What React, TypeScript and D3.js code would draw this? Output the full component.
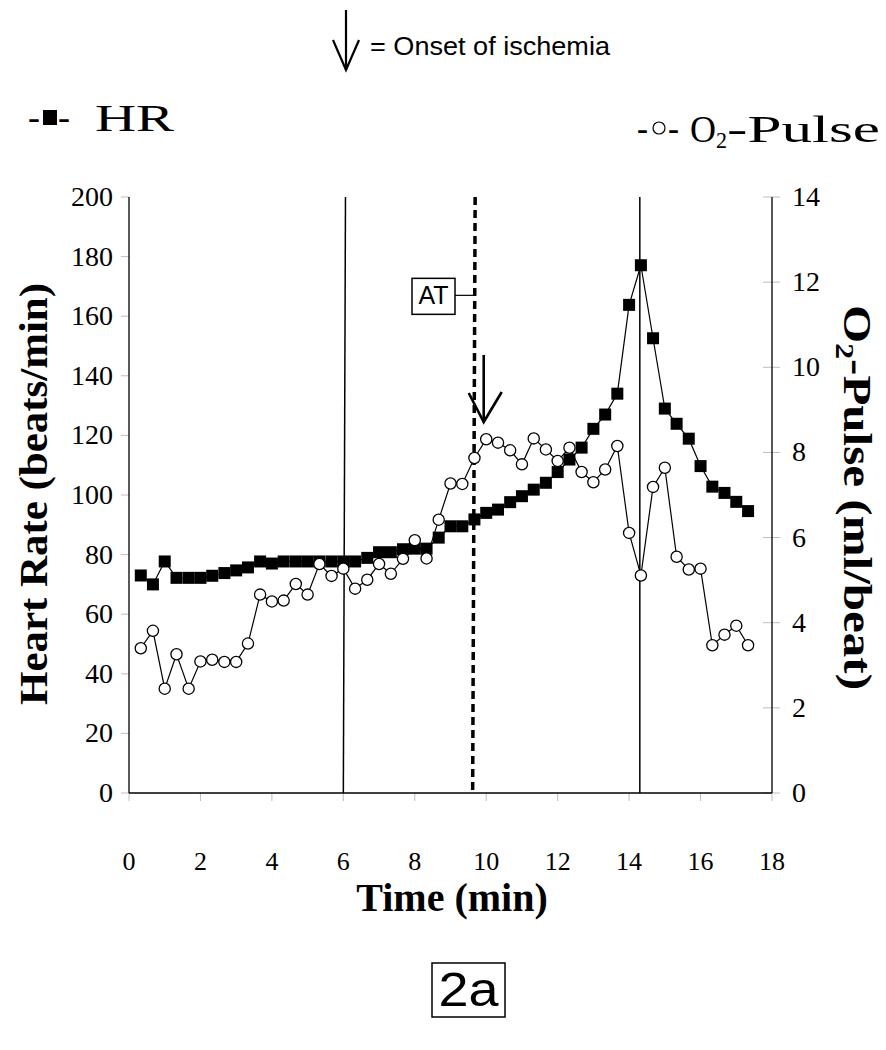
import React from "react";
import * as d3 from "d3";

const times = [0.33, 0.67, 1.0, 1.33, 1.67, 2.0, 2.33, 2.67, 3.0, 3.33, 3.67, 4.0, 4.33, 4.67, 5.0, 5.33, 5.67, 6.0, 6.33, 6.67, 7.0, 7.33, 7.67, 8.0, 8.33, 8.67, 9.0, 9.33, 9.67, 10.0, 10.33, 10.67, 11.0, 11.33, 11.67, 12.0, 12.33, 12.67, 13.0, 13.33, 13.67, 14.0, 14.33, 14.67, 15.0, 15.33, 15.67, 16.0, 16.33, 16.67, 17.0, 17.33];

const hrValues = [73, 70, 77.7, 72.2, 72.2, 72.2, 72.9, 73.8, 74.7, 75.7, 77.7, 77, 77.7, 77.7, 77.7, 77.7, 77.7, 77.7, 77.7, 78.9, 80.8, 80.8, 81.8, 82, 82, 85.7, 89.5, 89.5, 91.8, 94, 95.1, 97.6, 99.6, 101.8, 104.1, 107.7, 111.9, 115.9, 122.2, 127, 134, 163.8, 177.1, 152.6, 129, 123.9, 118.9, 109.7, 102.8, 100.7, 97.7, 94.6];

const o2Values = [3.4, 3.81, 2.45, 3.26, 2.45, 3.09, 3.13, 3.08, 3.08, 3.51, 4.66, 4.5, 4.52, 4.91, 4.66, 5.38, 5.1, 5.27, 4.8, 5.01, 5.38, 5.15, 5.5, 5.94, 5.51, 6.42, 7.27, 7.26, 7.87, 8.31, 8.23, 8.05, 7.72, 8.33, 8.07, 7.8, 8.11, 7.54, 7.3, 7.6, 8.15, 6.11, 5.11, 7.19, 7.64, 5.55, 5.25, 5.27, 3.47, 3.72, 3.93, 3.47];

const xTicks = [0, 2, 4, 6, 8, 10, 12, 14, 16, 18];
const hrTicks = [0, 20, 40, 60, 80, 100, 120, 140, 160, 180, 200];
const o2Ticks = [0, 2, 4, 6, 8, 10, 12, 14];

// reference lines: [time at top, time at bottom]
const solidLines = [[6.06, 6.0], [14.3, 14.3]];
const atLine = [9.69, 9.62];
// ischemia arrow: time, HR top, HR tip
const arrowTime = 9.93;
const arrowTopHR = 147;
const arrowTipHR = 124.5;

const serif = "'Liberation Serif', 'Times New Roman', serif";
const sans = "'Liberation Sans', Arial, sans-serif";

export default function App() {
  const L = 129, R = 772, T = 197, B = 793;
  const x = d3.scaleLinear().domain([0, 18]).range([L, R]);
  const yL = d3.scaleLinear().domain([0, 200]).range([B, T]);
  const yR = d3.scaleLinear().domain([0, 14]).range([B, T]);

  const hrLine = d3.line<number>().x((_, i) => x(times[i])).y((d) => yL(d));
  const o2Line = d3.line<number>().x((_, i) => x(times[i])).y((d) => yR(d));

  const ax = x(arrowTime);
  const aTop = yL(arrowTopHR);
  const aTip = yL(arrowTipHR);
  const atY = yL(167);

  return (
    <div style={{ position: "absolute", left: 0, top: 0 }}>
      <svg width={886} height={1050} style={{ display: "block", background: "#fff" }}>
        {/* header: arrow legend */}
        <g stroke="#000" strokeWidth={2.2} fill="none">
          <line x1={346} y1={10} x2={346} y2={70} />
          <polyline points="333,40 346,70 359,40" />
        </g>
        <text x={370} y={55} fontFamily={sans} fontSize={26} fill="#000" textLength={240} lengthAdjust="spacingAndGlyphs">= Onset of ischemia</text>

        {/* HR legend */}
        <text x={28} y={130} fontFamily={serif} fontSize={38} fill="#000" textLength={12} lengthAdjust="spacingAndGlyphs">-</text>
        <rect x={43} y={110} width={14} height={15} fill="#000" />
        <text x={58} y={130} fontFamily={serif} fontSize={38} fill="#000" textLength={12} lengthAdjust="spacingAndGlyphs">-</text>
        <text x={95} y={131} fontFamily={serif} fontSize={38} fill="#000" textLength={79} lengthAdjust="spacingAndGlyphs">HR</text>

        {/* O2 legend */}
        <text x={637} y={141} fontFamily={serif} fontSize={38} fill="#000" textLength={11} lengthAdjust="spacingAndGlyphs">-</text>
        <circle cx={659} cy={128} r={6} fill="#fff" stroke="#000" strokeWidth={1.2} />
        <text x={668} y={141} fontFamily={serif} fontSize={38} fill="#000" textLength={11} lengthAdjust="spacingAndGlyphs">-</text>
        <text x={690} y={142} fontFamily={serif} fontSize={38} fill="#000" textLength={26} lengthAdjust="spacingAndGlyphs">O</text>
        <text x={716} y={148} fontFamily={serif} fontSize={24} fill="#000" textLength={11} lengthAdjust="spacingAndGlyphs">2</text>
        <text x={727} y={142} fontFamily={serif} fontSize={38} fill="#000" textLength={153} lengthAdjust="spacingAndGlyphs">-Pulse</text>

        {/* ticks */}
        <g stroke="#bdbdbd" strokeWidth={1}>
          {hrTicks.map((t) => (
            <line key={"l" + t} x1={L - 8} x2={L} y1={yL(t)} y2={yL(t)} />
          ))}
          {o2Ticks.map((t) => (
            <line key={"r" + t} x1={R - 9} x2={R + 8} y1={yR(t)} y2={yR(t)} />
          ))}
          {xTicks.map((t) => (
            <line key={"b" + t} x1={x(t)} x2={x(t)} y1={B} y2={B + 8} />
          ))}
        </g>

        {/* axes lines */}
        <g stroke="#000" strokeWidth={1.3}>
          <line x1={L} x2={L} y1={T} y2={B} />
          <line x1={R} x2={R} y1={T} y2={B} />
          <line x1={L} x2={R} y1={B} y2={B} />
        </g>

        {/* tick labels */}
        <g fontFamily={serif} fontSize={28} fill="#000">
          {hrTicks.map((t) => (
            <text key={"lt" + t} x={113} y={yL(t) + 9} textAnchor="end">{t}</text>
          ))}
          {o2Ticks.map((t) => (
            <text key={"rt" + t} x={792} y={yR(t) + 9}>{t}</text>
          ))}
        </g>
        <g fontFamily={serif} fontSize={26} fill="#000">
          {xTicks.map((t) => (
            <text key={"bt" + t} x={x(t)} y={870} textAnchor="middle">{t}</text>
          ))}
        </g>

        {/* axis titles */}
        <text x={452} y={911} textAnchor="middle" fontFamily={serif} fontWeight="bold" fontSize={40} fill="#000">Time (min)</text>
        <text transform="translate(47,494) rotate(-90)" textAnchor="middle" fontFamily={serif} fontWeight="bold" fontSize={40} fill="#000" textLength={422} lengthAdjust="spacingAndGlyphs">Heart Rate (beats/min)</text>
        <text transform="translate(844,305) rotate(90)" fontFamily={serif} fontWeight="bold" fontSize={40} fill="#000" textLength={385} lengthAdjust="spacingAndGlyphs">
          O<tspan fontSize={26} dy={8}>2</tspan><tspan dy={-8}>-Pulse (ml/beat)</tspan>
        </text>

        {/* reference vertical lines */}
        <g stroke="#000" strokeWidth={1.5}>
          {solidLines.map((l, i) => (
            <line key={"s" + i} x1={x(l[0])} y1={T} x2={x(l[1])} y2={B} />
          ))}
        </g>
        <line x1={x(atLine[0])} y1={T} x2={x(atLine[1])} y2={B} stroke="#000" strokeWidth={3.5} strokeDasharray="8,5" />

        {/* AT label */}
        <line x1={455} x2={x(atLine[0]) - 1} y1={atY} y2={atY} stroke="#000" strokeWidth={1.2} />
        <rect x={412} y={atY - 17} width={43} height={36} fill="#fff" stroke="#000" strokeWidth={1.5} />
        <text x={433.5} y={atY + 9} textAnchor="middle" fontFamily={sans} fontSize={25} fill="#000">AT</text>

        {/* HR series */}
        <path d={hrLine(hrValues) || ""} fill="none" stroke="#000" strokeWidth={1.2} />
        {hrValues.map((v, i) => (
          <rect key={"h" + i} x={x(times[i]) - 6} y={yL(v) - 6} width={12} height={12} fill="#000" />
        ))}

        {/* O2 series */}
        <path d={o2Line(o2Values) || ""} fill="none" stroke="#000" strokeWidth={1.2} />
        {o2Values.map((v, i) => (
          <circle key={"o" + i} cx={x(times[i])} cy={yR(v)} r={5.6} fill="#fff" stroke="#000" strokeWidth={1.3} />
        ))}

        {/* ischemia arrow */}
        <g stroke="#000" strokeWidth={2.6} fill="none">
          <line x1={ax} y1={aTop} x2={ax} y2={aTip} />
          <polyline points={`${ax - 15},${aTip - 29} ${ax},${aTip} ${ax + 18},${aTip - 30}`} />
        </g>

        {/* panel label */}
        <rect x={432} y={963} width={73} height={54} fill="#fff" stroke="#000" strokeWidth={1.5} />
        <text x={468.5} y={1006} textAnchor="middle" fontFamily={sans} fontSize={48} fill="#000" textLength={60} lengthAdjust="spacingAndGlyphs">2a</text>
      </svg>
    </div>
  );
}
